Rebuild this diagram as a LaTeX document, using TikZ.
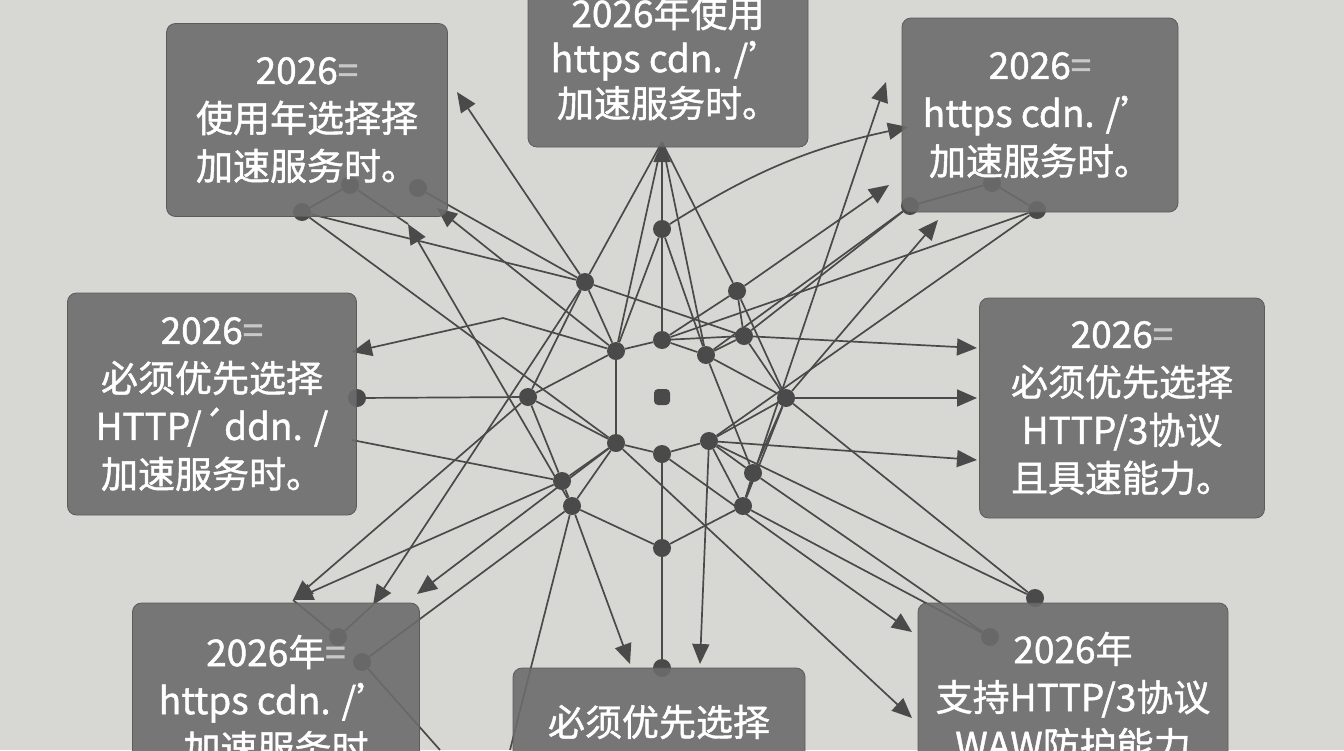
\documentclass[tikz,border=0pt]{standalone}
\usepackage{fontspec}
\newfontfamily\cjk[FakeBold=1.2]{Noto Sans CJK SC}
\usetikzlibrary{arrows.meta,backgrounds}
\usepackage{xcolor}
\definecolor{papel}{HTML}{D7D7D4}
\definecolor{gris}{HTML}{6C6C6C}
\definecolor{tinta}{HTML}{4A4A4A}
\definecolor{tenue}{HTML}{C8C8C8}
\tikzset{
	punto/.style={circle,fill=tinta,inner sep=0pt,minimum size=18pt},
	linea/.style={draw=tinta,line width=1.7pt},
	flecha/.style={linea,-{Triangle[length=20pt,width=17pt]}},
	caja/.style={rectangle,rounded corners=9pt,fill=gris,fill opacity=0.9,text opacity=1,
		draw=gris!85!black,line width=0.8pt,text=white,align=center,inner sep=0pt,
		font=\cjk\fontsize{37}{48}\selectfont},
}

\begin{document}
\begin{tikzpicture}[x=1pt,y=-1pt]
		\useasboundingbox (0,0) rectangle (1344,750);
		\begin{pgfonlayer}{background}
		\fill[papel] (0,0) rectangle (1344,750); % fondo
		\end{pgfonlayer}
		% puntos
		\foreach \n/\x/\y in {1/302/212,2/418/188,3/662/229,4/585/282,5/737/291,6/662/340,
			7/616/351,8/744/336,9/706/355,11/528/397,12/786/398,13/616/443,14/662/454,
			15/709/441,16/753/473,17/562/481,18/572/506,19/743/506,20/662/548,21/662/668,
			22/357/398,23/910/206,24/1037/210,25/338/637,26/362/662,27/990/637,28/1035/598,
			29/350/185,30/992/183}
		\node[punto] (p\n) at (\x,\y) {};
		\node[punto,rectangle,rounded corners=4pt,minimum size=16pt] (p10) at (662,397) {};
		% puntas de flecha
		\foreach \n/\x/\y in {1/457/92,2/408/224,3/437/208,4/662/142,5/886/82,6/908/127,
			7/889/185,8/938/220,9/352/352,10/977/348,11/977/398,12/977/460,13/293/600,
			14/373/605,15/417/594,16/630/664,17/700/664,18/912/632,19/912/718}
		\coordinate (t\n) at (\x,\y);
		\coordinate (k1) at (503,318);
		\coordinate (s1) at (352,440);
		\coordinate (s2) at (440,750);
		\coordinate (s3) at (510,750);
		\begin{pgfonlayer}{background}
		\foreach \a/\b in {p1/p29,p1/p4,p1/p13,p29/t2,p2/p4,t4/p4,t4/p7,t4/p5,t4/p9,
			p3/p6,p3/p9,p3/p7,p4/p7,p4/p8,p4/p11,p5/p6,p5/p8,p5/p12,p6/p7,p6/p8,p6/p9,
			p7/p11,p7/p13,p8/p9,p8/p12,p9/p12,p9/p16,p11/p13,p11/p17,p11/p22,p12/p15,
			p12/p16,p12/p19,p13/p14,p13/p18,p13/p17,p14/p15,p14/p20,p15/p16,p15/p19,
			p16/p19,p17/p18,p18/p20,p19/p20,p20/p21,p23/p8,p23/p9,p24/p6,p24/p15,
			p24/p30,p30/p23,s1/p17,p26/p18,p26/s2,p25/t13,p25/t14,p18/s3,p27/p19,
			p27/p16,p28/p12,p28/p15}
		\draw[linea] (\a) -- (\b);
		\foreach \a/\b in {p4/t1,p18/t2,p7/t3,p3/t4,p19/t5,p5/t7,p12/t8,p8/t10,p12/t11,
			p15/t12,p11/t13,p17/t13,p4/t14,p13/t15,p18/t16,p15/t17,p14/t18,p13/t19}
		\draw[flecha] (\a) -- (\b);
		\draw[flecha] (p3) to[bend left=10] (t6);
		\draw[flecha] (p7) -- (k1) -- (t9);
		\end{pgfonlayer}
		% cajas
		\node[caja,minimum width=281pt,minimum height=193pt] (b1) at (307,120)
			{2026{\color{tenue}=}\\使用年选择择\\加速服务时。};
		\node[caja,minimum width=280pt,minimum height=178pt,
			font=\cjk\fontsize{37}{45}\selectfont] (b2) at (668,58)
			{2026年使用\\https cdn. /’\\加速服务时。};
		\node[caja,minimum width=276pt,minimum height=194pt] (b3) at (1040,115)
			{2026{\color{tenue}=}\\https cdn. /’\\加速服务时。};
		\node[caja,minimum width=289pt,minimum height=222pt] (b4) at (212,404)
			{2026{\color{tenue}=}\\必须优先选择\\HTTP/´ddn. /\\加速服务时。};
		\node[caja,minimum width=285pt,minimum height=220pt] (b5) at (1122,408)
			{2026{\color{tenue}=}\\必须优先选择\\HTTP/3协议\\且具速能力。};
		\node[caja,minimum width=287pt,minimum height=194pt] (b6) at (276,700)
			{2026年{\color{tenue}=}\\https cdn. /’\\加速服务时};
		\node[caja,minimum width=292pt,minimum height=108pt] (b7) at (659,722)
			{必须优先选择};
		\node[caja,minimum width=310pt,minimum height=188pt] (b8) at (1073,697)
			{2026年\\支持HTTP/3协议\\WAW防护能力};
\end{tikzpicture}
\end{document}
